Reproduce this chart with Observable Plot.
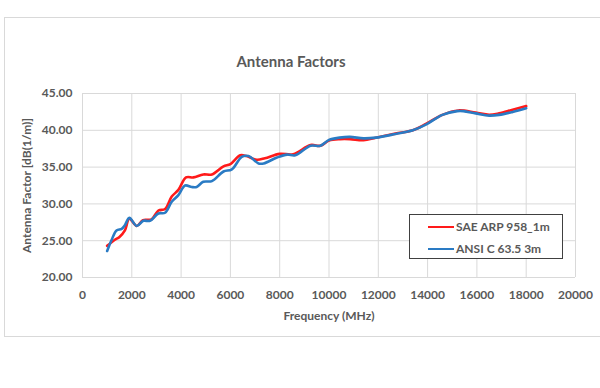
<!DOCTYPE html>
<html>
<head>
<meta charset="utf-8">
<script src="https://cdn.jsdelivr.net/npm/d3@7"></script>
<script src="https://cdn.jsdelivr.net/npm/@observablehq/plot@0.6"></script>
<style>
  html, body { margin: 0; padding: 0; background: #fff; }
  #wrap { position: relative; width: 600px; height: 388px; overflow: hidden; font-family: Lato, "Open Sans", sans-serif; }
  #frame { position: absolute; left: 4px; top: 17px; width: 610px; height: 320px; border: 1px solid #d9d9d9; box-sizing: border-box; }
  #legend { position: absolute; left: 409px; top: 214px; width: 154px; height: 45px; border: 1.5px solid #404040; box-sizing: border-box; background: #fff; }
  .row { position: absolute; left: 18px; display: flex; align-items: center; font-size: 12px; font-weight: bold; color: #595959; }
  .sw { width: 26px; height: 0; border-top: 2.5px solid; margin-right: 2px; }
</style>
</head>
<body>
<div id="wrap">
  <div id="frame"></div>
  <div id="chart"></div>
  <div id="legend"></div>
</div>
<script>
const seriesNames = ["SAE ARP 958_1m", "ANSI C 63.5 3m"];
const seriesColors = ["#ff1a1a", "#2a7bc4"];

const saeFreq = [1000, 1300, 1500, 1720, 1900, 2200, 2450, 2800, 3080, 3350, 3620, 3890, 4200, 4500, 4900, 5250, 5720, 6000, 6400, 6650, 7070, 7400, 8000, 8550, 9250, 9650, 10000, 10450, 10850, 11400, 11900, 12700, 13400, 13950, 14600, 15250, 15950, 16500, 16900, 17450, 18000];
const saeValue = [24.3, 25.1, 25.5, 26.4, 28.0, 27.0, 27.8, 27.9, 29.1, 29.3, 31.0, 31.9, 33.6, 33.6, 34.0, 34.0, 35.1, 35.4, 36.6, 36.5, 36.0, 36.2, 36.8, 36.75, 38.0, 37.9, 38.6, 38.8, 38.8, 38.65, 39.0, 39.55, 40.0, 40.9, 42.1, 42.7, 42.4, 42.1, 42.3, 42.8, 43.3];

const ansiFreq = [1000, 1180, 1380, 1590, 1720, 1900, 2200, 2470, 2740, 3080, 3350, 3620, 3890, 4160, 4430, 4630, 4900, 5250, 5720, 6060, 6460, 6730, 7140, 7350, 7890, 8300, 8630, 9250, 9650, 10000, 10430, 10850, 11400, 11900, 12700, 13400, 13950, 14600, 15200, 15450, 15950, 16500, 16900, 17450, 18000];
const ansiValue = [23.6, 25.1, 26.4, 26.6, 27.1, 28.1, 27.0, 27.7, 27.7, 28.7, 28.8, 30.3, 31.2, 32.5, 32.3, 32.3, 33.0, 33.1, 34.4, 34.7, 36.4, 36.5, 35.5, 35.5, 36.3, 36.7, 36.6, 37.9, 37.9, 38.7, 39.0, 39.1, 38.9, 39.0, 39.5, 40.0, 40.8, 42.1, 42.6, 42.6, 42.3, 42.0, 42.1, 42.5, 43.0];

const xTicks = [0, 2000, 4000, 6000, 8000, 10000, 12000, 14000, 16000, 18000, 20000];
const yTicks = [20, 25, 30, 35, 40, 45];

const data = [
  ...saeFreq.map((f, i) => ({freq: f, value: saeValue[i], series: seriesNames[0]})),
  ...ansiFreq.map((f, i) => ({freq: f, value: ansiValue[i], series: seriesNames[1]}))
];

const chart = Plot.plot({
  width: 600,
  height: 388,
  marginLeft: 82,
  marginRight: 25,
  marginTop: 93,
  marginBottom: 111,
  style: {fontFamily: "Lato, 'Open Sans', sans-serif", fontSize: "12px", color: "#595959", background: "transparent"},
  x: {domain: [0, 20000]},
  y: {domain: [20, 45]},
  color: {domain: seriesNames, range: seriesColors},
  marks: [
    Plot.gridX(xTicks, {stroke: "#d9d9d9", strokeOpacity: 1, strokeWidth: 1}),
    Plot.gridY(yTicks, {stroke: "#d9d9d9", strokeOpacity: 1, strokeWidth: 1}),
    Plot.axisX(xTicks, {tickSize: 0, tickPadding: 13, tickFormat: d => String(d), fontWeight: "bold", fill: "#595959",
      label: "Frequency (MHz)", labelAnchor: "center", labelOffset: 42, labelArrow: "none"}),
    Plot.axisY(yTicks, {tickSize: 0, tickPadding: 10, tickFormat: d3.format(".2f"), fontWeight: "bold", fill: "#595959",
      label: "Antenna Factor [dB(1/m)]", labelAnchor: "center", labelOffset: 60, labelArrow: "none"}),
    Plot.line(data, {x: "freq", y: "value", z: "series", stroke: "series", strokeWidth: 2.6, curve: "catmull-rom"}),
    Plot.text(["Antenna Factors"], {frameAnchor: "top", lineAnchor: "middle", dx: -38, dy: -31, fontSize: 15, fontWeight: "bold", fill: "#595959"})
  ]
});
chart.querySelectorAll("text").forEach(t => { t.style.fontWeight = "bold"; });
document.getElementById("chart").appendChild(chart);

const legend = document.getElementById("legend");
seriesNames.forEach((name, i) => {
  const row = document.createElement("div");
  row.className = "row";
  row.style.top = (i === 0 ? 4 : 26) + "px";
  const sw = document.createElement("div");
  sw.className = "sw";
  sw.style.borderTopColor = seriesColors[i];
  const lab = document.createElement("span");
  lab.textContent = name;
  row.appendChild(sw);
  row.appendChild(lab);
  legend.appendChild(row);
});
</script>
</body>
</html>
